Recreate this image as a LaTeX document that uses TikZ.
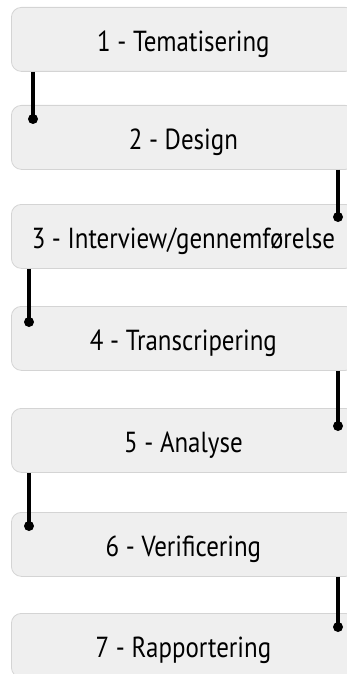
\documentclass[tikz,border=0pt]{standalone}
\usepackage{fontspec}
\setmainfont[FakeStretch=0.86]{PT Sans}
\definecolor{boxfill}{HTML}{EFEFEF}
\definecolor{boxline}{HTML}{D4D4D4}
\begin{document}
\begin{tikzpicture}[x=1pt,y=-1pt,
  stage/.style={draw=boxline,line width=0.8pt,fill=boxfill,rounded corners=10pt,
    minimum width=344pt,minimum height=64pt,inner sep=0pt,anchor=north west,
    text height=24pt,text depth=0pt,
    font=\fontsize{29}{29}\selectfont},
  link/.style={line width=3.2pt,black},
  dotend/.style={fill=black,draw=none}]
\useasboundingbox (0,0) rectangle (347,674);
\begin{scope}
\clip (0,0) rectangle (347,674);
\node[stage] (b1) at (11,7)   {1 - Tematisering};
\node[stage] (b2) at (11,105) {2 - Design};
\node[stage] (b3) at (11,204) {3 - Interview/gennemførelse};
\node[stage] (b4) at (11,306) {4 - Transcripering};
\node[stage] (b5) at (11,408) {5 - Analyse};
\node[stage] (b6) at (11,512) {6 - Verificering};
\node[stage] (b7) at (11,613) {7 - Rapportering};
\coordinate (d2) at ([xshift=22pt,yshift=-14pt]b2.north west);
\coordinate (d3) at (338,217);
\coordinate (d4) at ([xshift=18pt,yshift=-16pt]b4.north west);
\coordinate (d5) at (338,426);
\coordinate (d6) at ([xshift=18pt,yshift=-14pt]b6.north west);
\coordinate (d7) at (338,627);
\draw[link] (d2 |- b1.south) -- (d2);
\draw[link] (d3 |- b2.south) -- (d3);
\draw[link] (d4 |- b3.south) -- (d4);
\draw[link] (d5 |- b4.south) -- (d5);
\draw[link] (d6 |- b5.south) -- (d6);
\draw[link] (d7 |- b6.south) -- (d7);
\foreach \d in {d2,d3,d4,d5,d6,d7} \fill[dotend] (\d) circle (5pt);
\end{scope}
\end{tikzpicture}
\end{document}
